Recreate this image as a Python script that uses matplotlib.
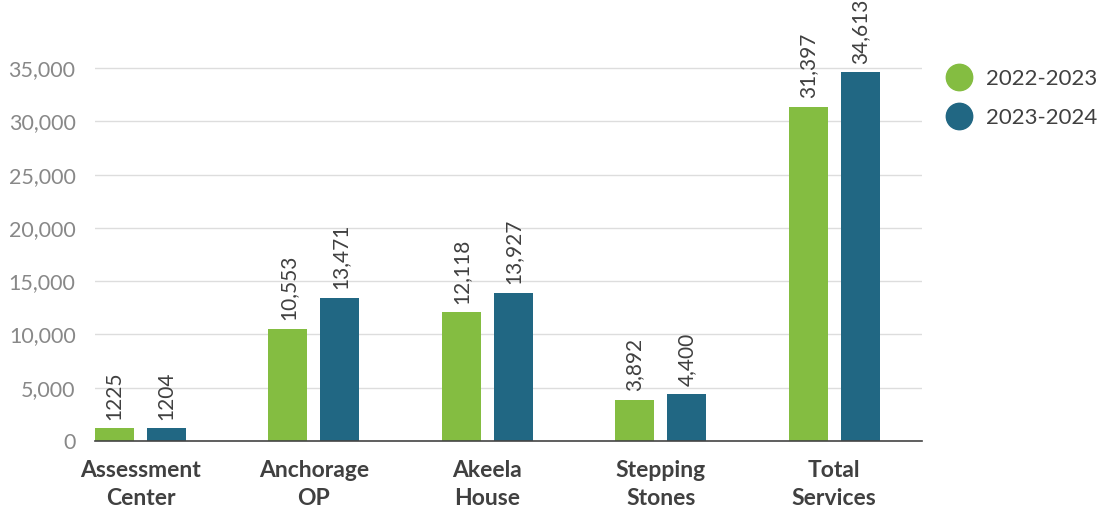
import matplotlib.pyplot as plt
import numpy as np

categories = ['Assessment\nCenter', 'Anchorage\nOP', 'Akeela\nHouse', 'Stepping\nStones', 'Total\nServices']
series_names = ['2022-2023', '2023-2024']
values_2022 = [1225, 10553, 12118, 3892, 31397]
values_2023 = [1204, 13471, 13927, 4400, 34613]
labels_2022 = ['1225', '10,553', '12,118', '3,892', '31,397']
labels_2023 = ['1204', '13,471', '13,927', '4,400', '34,613']
yticks = [0, 5000, 10000, 15000, 20000, 25000, 30000, 35000]

green = '#84bd41'
blue = '#216783'
text_col = '#404040'

plt.rcParams['font.family'] = ['Lato', 'DejaVu Sans']

fig = plt.figure(figsize=(11.05, 5.12), dpi=100)
ax = fig.add_axes([0.086, 0.1387, 0.748, 0.832])

x = np.arange(len(categories))
w = 0.225
off = 0.15
b1 = ax.bar(x - off, values_2022, w, color=green, label=series_names[0], zorder=3)
b2 = ax.bar(x + off, values_2023, w, color=blue, label=series_names[1], zorder=3)

for bars, labs in [(b1, labels_2022), (b2, labels_2023)]:
    for r, t in zip(bars, labs):
        ax.annotate(t, (r.get_x() + r.get_width() / 2, r.get_height()),
                    xytext=(0, 6), textcoords='offset points', rotation=90,
                    ha='center', va='bottom', fontsize=15, color=text_col)

ax.set_xlim(-0.262, 4.504)
ax.set_ylim(0, 40000)
ax.set_yticks(yticks)
ax.set_yticklabels([f'{v:,}' for v in yticks])
ax.set_xticks(x)
ax.set_xticklabels(categories, fontweight='bold', fontsize=16.5, color=text_col, linespacing=1.4)
ax.tick_params(axis='y', length=0, pad=14, labelsize=15.5, labelcolor='#888888')
ax.tick_params(axis='x', length=0, pad=14)
ax.grid(axis='y', color='#dddddd', linewidth=1, zorder=0)
for s in ['top', 'right', 'left']:
    ax.spines[s].set_visible(False)
ax.spines['bottom'].set_color('#444444')
ax.spines['bottom'].set_linewidth(1.2)
ax.spines['bottom'].set_zorder(4)

handles = [plt.Line2D([], [], marker='o', linestyle='', markersize=19, color=c) for c in (green, blue)]
fig.legend(handles, series_names, loc='upper left', bbox_to_anchor=(0.838, 0.905), frameon=False,
           fontsize=16, labelcolor=text_col, handletextpad=0.6, labelspacing=0.85, handlelength=1.2)

fig.savefig('out.png', dpi=100)
